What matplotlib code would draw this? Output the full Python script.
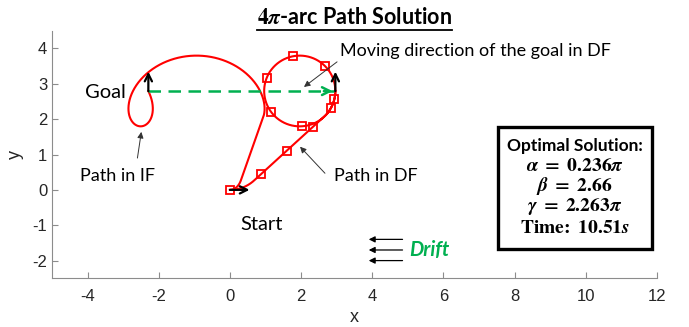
import numpy as np
import matplotlib
matplotlib.use("Agg")
import matplotlib.pyplot as plt
from matplotlib.patches import Rectangle
from matplotlib.lines import Line2D

plt.rcParams['mathtext.fontset'] = 'stix'
plt.rcParams['axes.unicode_minus'] = False

# LSL solution in the drift frame (turn radius 1, unit speed)
alpha = 0.236 * np.pi
beta = 2.66
gamma = 2.263 * np.pi
t_final = 10.51
radius = 1.0
drift = np.array([-0.5, 0.0])
marker_times = [0, 1, 2, 3, 4, 5, 6, 7, 8, 9, 10]
drift_arrow_y = [-1.4, -1.7, -2.0]

x_ticks = [-4, -2, 0, 2, 4, 6, 8, 10, 12]
y_ticks = [-2, -1, 0, 1, 2, 3, 4]

sans = 'Lato'


def df_position(t):
    a = alpha * radius
    if t <= a:
        th = t / radius
        return np.array([radius * np.sin(th), radius * (1 - np.cos(th))])
    p1 = np.array([radius * np.sin(alpha), radius * (1 - np.cos(alpha))])
    d = np.array([np.cos(alpha), np.sin(alpha)])
    if t <= a + beta:
        return p1 + (t - a) * d
    p2 = p1 + beta * d
    c2 = p2 + radius * np.array([-np.sin(alpha), np.cos(alpha)])
    ang = alpha + (t - a - beta) / radius
    return c2 + radius * np.array([np.sin(ang), -np.cos(ang)])


t = np.linspace(0, t_final, 1500)
df_path = np.array([df_position(s) for s in t])
if_path = df_path + np.outer(t, drift)
df_marks = np.array([df_position(s) for s in marker_times])

goal_df = df_position(t_final)
goal_if = goal_df + drift * t_final

fig = plt.figure(figsize=(6.89, 3.27), dpi=100)
ax = fig.add_axes([0.0755, 0.149, 0.878, 0.757])

ax.plot(if_path[:, 0], if_path[:, 1], color='red', lw=1.5)
ax.plot(df_path[:, 0], df_path[:, 1], color='red', lw=1.5)
ax.plot(df_marks[:, 0], df_marks[:, 1], ls='none', marker='s', ms=6,
        mfc='none', mec='red', mew=1.3)

# goal motion in the drift frame
green = '#00B050'
ax.plot([goal_if[0], goal_df[0] - 0.05], [goal_if[1], goal_df[1]],
        color=green, lw=1.8, dashes=(5, 3))
ax.annotate('', xy=(goal_df[0], goal_df[1]), xytext=(goal_df[0] - 0.4, goal_df[1]),
            arrowprops=dict(arrowstyle='->', color=green, lw=1.8, mutation_scale=14))

# heading arrows at start and goal
arrow_len = 0.55
for p, h in [((0, 0), 0.0), (goal_if, alpha + gamma), (goal_df, alpha + gamma)]:
    tip = (p[0] + arrow_len * np.cos(h), p[1] + arrow_len * np.sin(h))
    ax.annotate('', xy=tip, xytext=(p[0], p[1]),
                arrowprops=dict(arrowstyle='->', color='black', lw=1.6,
                                mutation_scale=13, shrinkA=0, shrinkB=0))

# drift arrows
for y in drift_arrow_y:
    ax.annotate('', xy=(3.9, y), xytext=(4.85, y),
                arrowprops=dict(arrowstyle='-|>', color='black', lw=0.9,
                                mutation_scale=9, shrinkA=0, shrinkB=0))
ax.text(5.05, -1.7, 'Drift', color=green, fontsize=14.5, fontweight='bold',
        fontstyle='italic', family=sans, va='center', ha='left')

# labels with pointers
ptr = dict(arrowstyle='-|>', color='#333333', lw=0.7, mutation_scale=9,
           shrinkA=0, shrinkB=0)
ax.text(-3.5, 2.76, 'Goal', fontsize=14.5, family=sans, ha='center', va='center')
ax.text(0.9, -0.98, 'Start', fontsize=14.5, family=sans, ha='center', va='center')
ax.text(-3.17, 0.39, 'Path in IF', fontsize=13, family=sans, ha='center', va='center')
ax.annotate('', xy=(-2.49, 1.64), xytext=(-2.6, 0.9), arrowprops=ptr)
ax.text(4.1, 0.39, 'Path in DF', fontsize=13, family=sans, ha='center', va='center')
ax.annotate('', xy=(1.97, 1.22), xytext=(2.67, 0.47), arrowprops=ptr)
ax.text(6.9, 3.94, 'Moving direction of the goal in DF', fontsize=13, family=sans,
        ha='center', va='center')
ax.annotate('', xy=(2.08, 2.91), xytext=(3.01, 3.62), arrowprops=ptr)

# solution box
ax.add_patch(Rectangle((7.53, -1.66), 4.32, 3.43, fill=False, ec='black',
                       lw=2.4, clip_on=False))
box_lines = ['Optimal Solution:',
             r'$\boldsymbol{\alpha}\ \mathbf{=\ 0.236}\boldsymbol{\pi}$',
             r'$\boldsymbol{\beta}\ \mathbf{=\ 2.66}$',
             r'$\boldsymbol{\gamma}\ \mathbf{=\ 2.263}\boldsymbol{\pi}$',
             r'$\mathbf{Time\!:\ 10.51}\boldsymbol{s}$']
box_y = [1.25, 0.68, 0.10, -0.48, -1.07]
for i, (s, y) in enumerate(zip(box_lines, box_y)):
    ax.text(9.69, y, s, fontsize=12.5 if i == 0 else 14, family=sans,
            fontweight='bold', ha='center', va='center')

# axes styling
ax.set_xlim(-5, 12)
ax.set_ylim(-2.5, 4.5)
ax.set_xticks(x_ticks)
ax.set_yticks(y_ticks)
for side in ['top', 'right']:
    ax.spines[side].set_visible(False)
for side in ['left', 'bottom']:
    ax.spines[side].set_color('#8c8c8c')
ax.tick_params(direction='in', length=4, color='#8c8c8c', labelcolor='#262626',
               labelsize=12)
ax.tick_params(axis='x', pad=8)
for lab in ax.get_xticklabels() + ax.get_yticklabels():
    lab.set_family('Liberation Sans')
ax.set_xlabel('x', fontsize=13, family='Liberation Sans', color='#262626', labelpad=3)
ax.set_ylabel('y', fontsize=13, family='Liberation Sans', color='#262626', labelpad=6)

# underlined title
title = fig.text(0.5145, 0.948, r'$\boldsymbol{4\pi}$-arc Path Solution', fontsize=15.5,
                 family=sans, fontweight='bold', ha='center', va='center')
fig.canvas.draw()
bb = title.get_window_extent()
fig.add_artist(Line2D([bb.x0 / fig.bbox.width, bb.x1 / fig.bbox.width],
                      [(bb.y0 - 2) / fig.bbox.height] * 2, color='black', lw=1.3))

fig.savefig('out.png', dpi=100)
